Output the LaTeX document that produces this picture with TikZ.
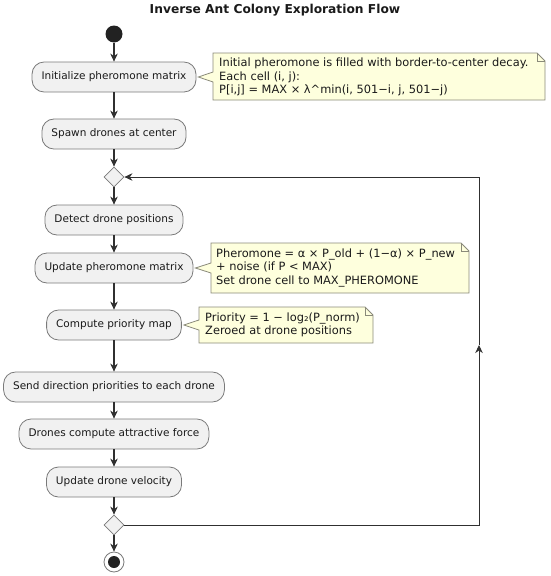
\documentclass[tikz,border=0pt]{standalone}
\usepackage{fontspec}
\setmainfont{DejaVu Sans}
\usetikzlibrary{arrows.meta,calc,shapes.geometric}
\definecolor{boxfill}{HTML}{F1F1F1}
\definecolor{boxline}{HTML}{7A7A7A}
\definecolor{notefill}{HTML}{FEFFDD}
\definecolor{noteline}{HTML}{8A8A7A}
\definecolor{arrowc}{HTML}{303030}
\definecolor{dotc}{HTML}{222222}
\definecolor{textc}{HTML}{1A1A1A}
\tikzset{
  act/.style={rectangle, rounded corners=12pt, draw=boxline, fill=boxfill, line width=0.8pt,
    minimum height=30pt, inner xsep=9.5pt, font=\fontsize{10.5}{12.5}\selectfont, text=textc},
  decis/.style={diamond, draw=boxline, fill=boxfill, line width=0.8pt, minimum width=20pt,
    minimum height=20pt, inner sep=0pt},
  startdot/.style={circle, fill=dotc, minimum size=17pt, inner sep=0pt},
  endring/.style={circle, draw=boxline, fill=white, line width=0.8pt, minimum size=20pt, inner sep=0pt},
  enddot/.style={circle, fill=dotc, minimum size=12pt, inner sep=0pt},
  flow/.style={draw=arrowc, line width=1.1pt, -{Stealth[length=8pt,width=7.5pt,inset=2.5pt]}},
  loopline/.style={draw=arrowc, line width=0.9pt},
  loopflow/.style={draw=arrowc, line width=0.9pt, -{Stealth[length=8pt,width=7.5pt,inset=2.5pt]}},
  noteshape/.style={draw=noteline, fill=notefill, line width=0.8pt, line join=miter},
  notetext/.style={anchor=west, inner sep=0pt, align=left, font=\fontsize{11.4}{13.5}\selectfont, text=textc},
}
\begin{document}
\begin{tikzpicture}[x=1pt,y=-1pt]
\useasboundingbox (0,0) rectangle (550,576);

\node[font=\fontsize{12.25}{14}\selectfont\bfseries, text=textc] (title) at (275,10) {Inverse Ant Colony Exploration Flow};

\node[startdot] (start) at (114,34) {};
\node[act] (init) at (114,77) {Initialize pheromone matrix};
\node[act] (spawn) at (114,134) {Spawn drones at center};
\node[decis] (d1) at (114,177) {};
\node[act] (detect) at (114,220) {Detect drone positions};
\node[act] (update) at (114,268) {Update pheromone matrix};
\node[act] (compute) at (114,325) {Compute priority map};
\node[act] (send) at (114,387) {Send direction priorities to each drone};
\node[act] (force) at (114,434) {Drones compute attractive force};
\node[act] (vel) at (114,482) {Update drone velocity};
\node[decis] (d2) at (114,525) {};
\node[endring] (stop) at (114,562) {};
\node[enddot] (stopdot) at (114,562) {};

% notes
\draw[noteshape] (213,53) -- (537,53) -- (545,61) -- (545,100) -- (213,100) -- (213,82)
  -- ($(init.east)+(2,0)$) -- (213,72) -- cycle;
\draw[noteshape, fill=none] (537,53) -- (537,61) -- (545,61);
\node[notetext] (note1) at (219,77) {Initial pheromone is filled with border-to-center decay.\\Each cell (i, j):\\P[i,j] = MAX × λ\^{}min(i, 501−i, j, 501−j)};

\draw[noteshape] (211,243) -- (461,243) -- (469,251) -- (469,293) -- (211,293) -- (211,273)
  -- ($(update.east)+(2,0)$) -- (211,263) -- cycle;
\draw[noteshape, fill=none] (461,243) -- (461,251) -- (469,251);
\node[notetext] (note2) at (216,268) {Pheromone = α × P\_old + (1−α) × P\_new\\+ noise (if P < MAX)\\Set drone cell to MAX\_PHEROMONE};

\draw[noteshape] (199,307) -- (365,307) -- (373,315) -- (373,343) -- (199,343) -- (199,330)
  -- ($(compute.east)+(2,0)$) -- (199,320) -- cycle;
\draw[noteshape, fill=none] (365,307) -- (365,315) -- (373,315);
\node[notetext] (note3) at (205,325) {Priority = 1 − log₂(P\_norm)\\Zeroed at drone positions};

% flow
\draw[flow] (start) -- (init);
\draw[flow] (init) -- (spawn);
\draw[flow] (spawn) -- (d1);
\draw[flow] (d1) -- (detect);
\draw[flow] (detect) -- (update);
\draw[flow] (update) -- (compute);
\draw[flow] (compute) -- (send);
\draw[flow] (send) -- (force);
\draw[flow] (force) -- (vel);
\draw[flow] (vel) -- (d2);
\draw[flow] (d2) -- (stop);

% loop back
\coordinate (lr) at (479,525);
\coordinate (lm) at (479,345);
\coordinate (ur) at (479,177);
\draw[loopflow] (d2.east) -- (lr) -- (lm);
\draw[loopflow] (lm) -- (ur) -- (d1.east);
\end{tikzpicture}
\end{document}
